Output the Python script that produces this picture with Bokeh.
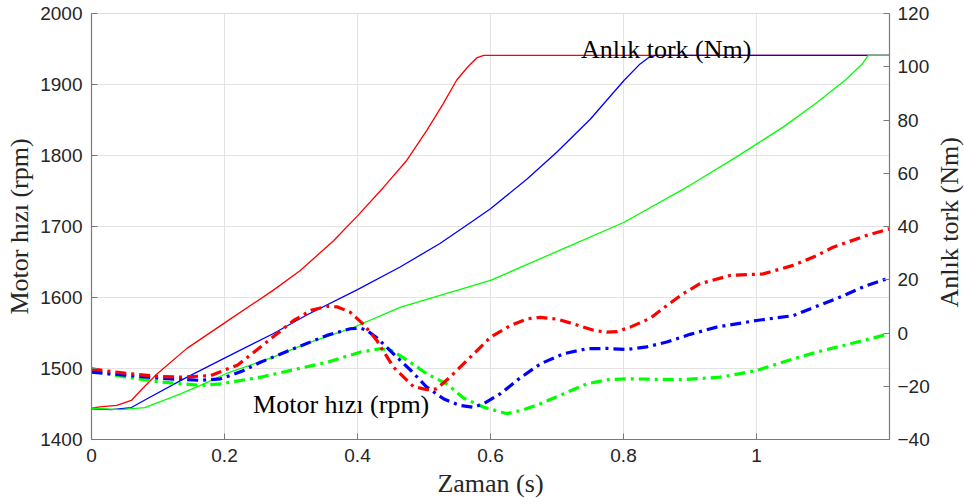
import math
from bokeh.plotting import figure
from bokeh.models import Range1d, LinearAxis, FixedTicker
from bokeh.layouts import row
from bokeh.core.properties import value
from bokeh.embed import file_html
from bokeh.resources import INLINE

# ---- data: motor speed (rpm, left axis) ----
t_speed_red = [0, 0.0125, 0.038, 0.06, 0.075, 0.098, 0.143, 0.203, 0.273, 0.314, 0.364, 0.4, 0.439, 0.474, 0.504, 0.529, 0.549, 0.565, 0.58, 0.59, 1.2]
speed_red = [1444, 1446, 1448, 1455, 1470, 1492, 1528, 1566, 1610, 1638, 1680, 1715, 1755, 1793, 1835, 1873, 1906, 1924, 1938, 1941, 1941]

t_speed_blue = [0, 0.03, 0.06, 0.083, 0.138, 0.203, 0.273, 0.323, 0.4, 0.464, 0.524, 0.574, 0.6, 0.655, 0.7, 0.75, 0.801, 0.825, 0.838, 0.848, 1.2]
speed_blue = [1443, 1442, 1445, 1457, 1485, 1516, 1549, 1575, 1611, 1643, 1676, 1708, 1725, 1767, 1805, 1851, 1906, 1929, 1938, 1941, 1941]

t_speed_green = [0, 0.043, 0.08, 0.133, 0.168, 0.203, 0.273, 0.323, 0.389, 0.464, 0.6, 0.715, 0.801, 0.9, 0.97, 1.0, 1.04, 1.09, 1.136, 1.16, 1.168, 1.2]
speed_green = [1444, 1442, 1445, 1464, 1478, 1493, 1516, 1535, 1556, 1586, 1624, 1671, 1706, 1758, 1798, 1816, 1840, 1874, 1908, 1930, 1941, 1941]

# ---- data: instantaneous torque (Nm, right axis) ----
t_torque_red = [0, 0.05, 0.1, 0.134, 0.179, 0.22, 0.254, 0.304, 0.33, 0.354, 0.37, 0.389, 0.41, 0.429, 0.454, 0.484, 0.505, 0.519, 0.539, 0.57, 0.6, 0.63, 0.655, 0.675, 0.7, 0.725, 0.755, 0.775, 0.79, 0.81, 0.84, 0.865, 0.89, 0.915, 0.96, 1.01, 1.055, 1.09, 1.115, 1.165, 1.2]
torque_red = [-13.5, -15.1, -16.3, -16.6, -16.0, -12.0, -5.3, 4.7, 8.5, 10.0, 9.8, 7.8, 3.0, -2.8, -12.8, -20.1, -21.3, -21.0, -16.6, -9.0, -1.6, 2.8, 5.3, 5.9, 5.2, 3.4, 1.0, 0.3, 0.5, 2.2, 5.5, 10.3, 14.8, 18.5, 21.6, 22.2, 25.4, 29.0, 32.2, 36.6, 39.1]

t_torque_blue = [0, 0.05, 0.1, 0.164, 0.194, 0.225, 0.254, 0.304, 0.354, 0.389, 0.405, 0.414, 0.43, 0.454, 0.48, 0.504, 0.53, 0.554, 0.574, 0.59, 0.615, 0.645, 0.675, 0.71, 0.745, 0.775, 0.805, 0.835, 0.865, 0.9, 0.94, 1.0, 1.055, 1.085, 1.125, 1.165, 1.2]
torque_blue = [-14.7, -15.8, -17.0, -17.8, -17.2, -14.5, -11.0, -5.9, -0.9, 1.6, 1.8, 1.0, -2.0, -7.8, -14.0, -20.3, -24.8, -27.2, -27.9, -26.5, -22.8, -16.8, -11.6, -7.8, -5.9, -5.8, -6.2, -5.2, -3.4, -0.5, 2.2, 4.7, 6.5, 9.5, 13.4, 17.8, 20.7]

t_torque_green = [0, 0.05, 0.1, 0.164, 0.194, 0.254, 0.304, 0.354, 0.404, 0.434, 0.45, 0.464, 0.484, 0.504, 0.534, 0.56, 0.59, 0.625, 0.65, 0.675, 0.71, 0.745, 0.775, 0.805, 0.85, 0.89, 0.945, 1.0, 1.045, 1.09, 1.15, 1.2]
torque_green = [-14.1, -16.5, -18.3, -19.7, -19.1, -16.6, -13.8, -11.0, -7.2, -5.9, -6.5, -8.5, -11.8, -15.3, -19.1, -24.5, -27.9, -30.3, -28.8, -26.6, -22.8, -19.1, -17.6, -17.2, -17.4, -17.5, -16.6, -14.1, -10.5, -7.2, -3.5, -0.3]

x_ticks = [0, 0.2, 0.4, 0.6, 0.8, 1]
x_tick_labels = ["0", "0.2", "0.4", "0.6", "0.8", "1"]
y_ticks = [1400, 1500, 1600, 1700, 1800, 1900, 2000]
y2_ticks = [-40, -20, 0, 20, 40, 60, 80, 100, 120]

x_label = "Zaman (s)"
y_label = "Motor hızı (rpm)"
y2_label = "Anlık tork (Nm)"
note_torque = "Anlık tork (Nm)"
note_speed = "Motor hızı (rpm)"

RED, BLUE, GREEN = "#ff0000", "#0000ff", "#00ff00"
TICK_FONT = "Liberation Sans"
LABEL_FONT = "Liberation Serif"
TXT = "#262626"
AXC = "#7a7a7a"

p = figure(width=932, height=504, output_backend="svg", toolbar_location=None,
           x_range=Range1d(0, 1.2), y_range=Range1d(1400, 2000),
           min_border_left=91, min_border_right=43, min_border_top=13, min_border_bottom=65)
p.extra_y_ranges = {"torque": Range1d(-40, 120)}
p.background_fill_color = "white"
p.border_fill_color = "white"
p.outline_line_color = "#dcdcdc"
p.outline_line_width = 1

# grid
p.xgrid.ticker = FixedTicker(ticks=x_ticks)
p.ygrid.ticker = FixedTicker(ticks=y_ticks)
p.xgrid.grid_line_color = "#e3e3e3"
p.ygrid.grid_line_color = "#e3e3e3"

def style_axis(ax):
    ax.major_tick_in = 6
    ax.major_tick_out = 0
    ax.minor_tick_in = 0
    ax.minor_tick_out = 0
    ax.axis_line_color = AXC
    ax.major_tick_line_color = AXC
    ax.axis_line_width = 1.2
    ax.major_label_text_font = TICK_FONT
    ax.major_label_text_font_size = "19px"
    ax.major_label_text_color = TXT
    ax.axis_label_text_font = LABEL_FONT
    ax.axis_label_text_font_size = "26px"
    ax.axis_label_text_font_style = "normal"
    ax.axis_label_text_color = TXT

xa = p.xaxis[0]
xa.ticker = FixedTicker(ticks=x_ticks)
xa.major_label_overrides = {k: v for k, v in zip(x_ticks, x_tick_labels)}
xa.axis_label = x_label
style_axis(xa)
xa.major_label_standoff = 9
xa.axis_label_standoff = 4

ya = p.yaxis[0]
ya.ticker = FixedTicker(ticks=y_ticks)
ya.axis_label = y_label
style_axis(ya)
ya.major_label_standoff = 9
ya.axis_label_standoff = 3

ra = LinearAxis(y_range_name="torque", ticker=FixedTicker(ticks=y2_ticks))
style_axis(ra)
ra.major_label_standoff = 8
p.add_layout(ra, "right")

# speed (solid, left axis)
p.line(t_speed_red, speed_red, line_color=RED, line_width=1.3)
p.line(t_speed_blue, speed_blue, line_color=BLUE, line_width=1.3)
p.line(t_speed_green, speed_green, line_color=GREEN, line_width=1.3)

# torque (dash-dot, right axis)
for tt, vv, c in [(t_torque_green, torque_green, GREEN), (t_torque_blue, torque_blue, BLUE), (t_torque_red, torque_red, RED)]:
    p.line(tt, vv, line_color=c, line_width=3.2, line_dash="11 5 3 5", y_range_name="torque")

# annotations
p.text(x=[0.736], y=[1950], text=[note_torque], text_font=value(LABEL_FONT), text_font_size="26px",
       text_color="#000000", text_align="left", text_baseline="alphabetic")
p.text(x=[0.243], y=[1450], text=[note_speed], text_font=value(LABEL_FONT), text_font_size="26px",
       text_color="#000000", text_align="left", text_baseline="alphabetic")

# narrow strip carrying the right axis title (reads bottom-to-top)
p2 = figure(width=32, height=504, output_backend="svg", toolbar_location=None,
            x_range=Range1d(0, 1), y_range=Range1d(0, 1),
            min_border_left=0, min_border_right=0, min_border_top=0, min_border_bottom=0)
p2.axis.visible = False
p2.grid.visible = False
p2.outline_line_color = None
p2.background_fill_color = "white"
p2.border_fill_color = "white"
p2.text(x=[0.53], y=[1 - 247 / 504], text=[y2_label], angle=math.pi / 2,
        text_font=value(LABEL_FONT), text_font_size="26px", text_color=TXT,
        text_align="center", text_baseline="middle")

layout = row(p, p2, spacing=0)
open("out.html", "w").write(file_html(layout, INLINE))
